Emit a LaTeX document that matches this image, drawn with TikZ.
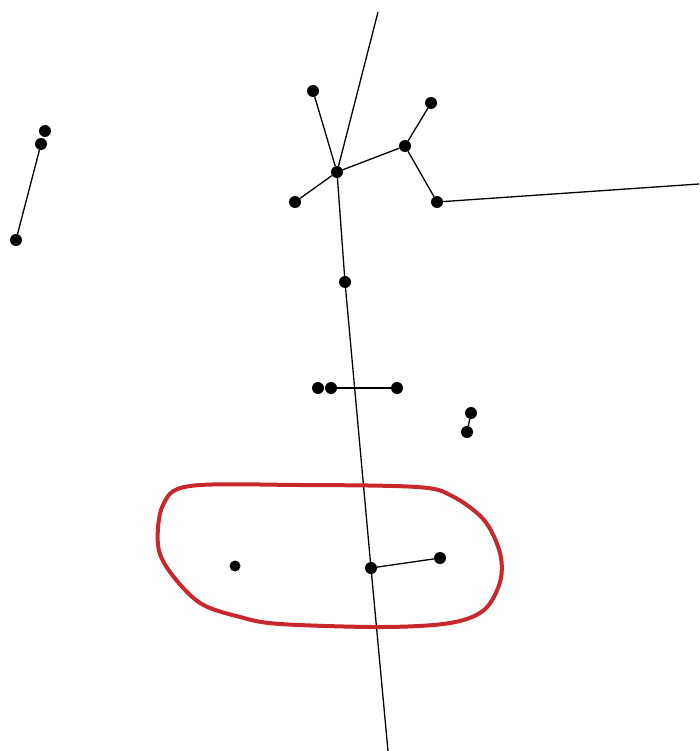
\documentclass[tikz,border=0pt]{standalone}
\usepackage{tikz}
\usetikzlibrary{calc}
\definecolor{loopred}{HTML}{C8282D}

\tikzset{
  dot/.style={circle,fill=black,inner sep=0pt,minimum size=12pt},
  edge/.style={black,line width=1.3pt}
}

\begin{document}
\begin{tikzpicture}[x=1pt,y=-1pt]
  \useasboundingbox (0,0) rectangle (699,751);

  % Left pair
  \node[dot] (a1) at (45,131) {};
  \node[dot] (a2) at (41,144) {};
  \node[dot] (a3) at (16,240) {};
  \draw[edge] (a2) -- (a3);

  % Upper cluster
  \coordinate (top) at (378,12);
  \node[dot] (hub) at (337,172) {};
  \node[dot] (p1) at (313,91) {};
  \node[dot] (p2) at (295,202) {};
  \node[dot] (q) at (405,146) {};
  \node[dot] (r) at (431,103) {};
  \node[dot] (s) at (437,202) {};
  \coordinate (east) at (699,184);
  \draw[edge] (top) -- (hub);
  \draw[edge] (p1) -- (hub);
  \draw[edge] (p2) -- (hub);
  \draw[edge] (hub) -- (q);
  \draw[edge] (r) -- (q);
  \draw[edge] (q) -- (s);
  \draw[edge] (s) -- (east);

  % Main stem
  \node[dot] (m) at (345,282) {};
  \node[dot] (j) at (371,568) {};
  \node[dot] (k) at (440,558) {};
  \coordinate (bottom) at (388,751);
  \draw[edge] (hub) -- (m) -- (j) -- (bottom);
  \draw[edge] (j) -- (k);

  % Crossbar
  \node[dot] (d1) at (318,388) {};
  \node[dot] (d2) at (331,388) {};
  \node[dot] (d3) at (397,388) {};
  \draw[edge] (d2) -- (d3);

  % Loose dots
  \node[dot] (e1) at (471,413) {};
  \node[dot] (e2) at (467,432) {};
  \draw[edge] (e1) -- (e2);
  \node[dot,minimum size=11pt] (lone) at (235,566) {};

  % Red loop
  \draw[loopred,line width=4pt] plot[smooth cycle,tension=0.55] coordinates {
    (190,486) (300,485) (417,487) (452,496) (484,520) (500,553) (500,582)
    (484,610) (450,623) (383,627) (280,624) (240,617) (200,603)
    (170,572) (158,545) (163,505)};
\end{tikzpicture}
\end{document}
